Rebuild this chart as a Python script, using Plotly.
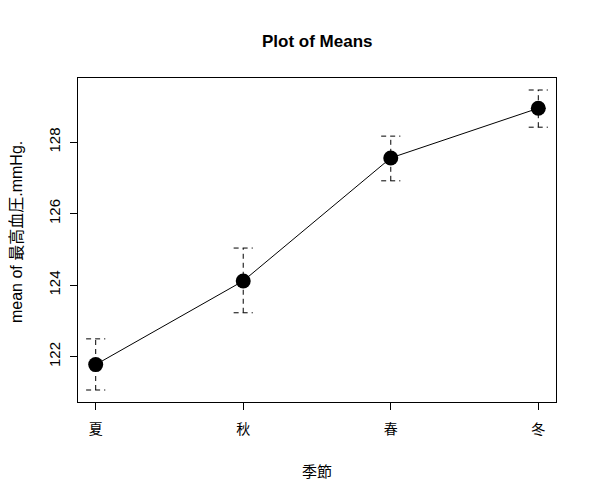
import plotly.graph_objects as go

categories = ["夏", "秋", "春", "冬"]
means = [121.78, 124.12, 127.56, 128.95]
upper = [122.50, 125.04, 128.17, 129.46]
lower = [121.07, 123.23, 126.92, 128.42]
y_ticks = [122, 124, 126, 128]

xpos = [i + 1 for i in range(len(categories))]
cap = 0.065

fig = go.Figure()

# error bars (dashed) with caps
ex, ey = [], []
for x, lo, hi in zip(xpos, lower, upper):
    ex += [x, x, None, x - cap, x + cap, None, x - cap, x + cap, None]
    ey += [lo, hi, None, hi, hi, None, lo, lo, None]
fig.add_trace(go.Scatter(x=ex, y=ey, mode="lines",
                         line=dict(color="black", width=1, dash="5px,4px"),
                         hoverinfo="skip", showlegend=False))

fig.add_trace(go.Scatter(x=xpos, y=means, mode="lines+markers",
                         line=dict(color="black", width=1),
                         marker=dict(color="black", size=15),
                         showlegend=False))

span = max(upper) - min(lower)
yr = [min(lower) - 0.04 * span, max(upper) + 0.04 * span]
xr = [1 - 0.04 * 3, 4 + 0.04 * 3]

fig.update_layout(
    width=597, height=500,
    margin=dict(l=70, r=49, t=70, b=106),
    paper_bgcolor="white", plot_bgcolor="white",
    font=dict(family="Liberation Sans, Arial", color="black", size=13),
    xaxis=dict(range=xr, tickvals=xpos, ticktext=categories,
               showgrid=False, zeroline=False,
               showline=True, linecolor="black", linewidth=1, mirror=True,
               ticks="outside", ticklen=7, tickcolor="black", tickwidth=1,
               tickfont=dict(family="Noto Sans CJK JP", size=14),
               ticklabelstandoff=7),
    yaxis=dict(range=yr, tickvals=y_ticks, ticktext=[str(v) for v in y_ticks],
               showgrid=False, zeroline=False,
               showline=True, linecolor="black", linewidth=1, mirror=True,
               ticks="outside", ticklen=7, tickcolor="black", tickwidth=1,
               tickangle=-90, tickfont=dict(size=15),
               ticklabelstandoff=4),
    annotations=[
        dict(text="<b>Plot of Means</b>", xref="paper", yref="paper",
             x=0.5, y=1, yshift=37, showarrow=False,
             font=dict(size=17, family="Liberation Sans, Arial"),
             xanchor="center", yanchor="middle"),
        dict(text="季節", xref="paper", yref="paper",
             x=0.5, y=0, yshift=-68, showarrow=False,
             font=dict(size=15, family="Noto Sans CJK JP"),
             xanchor="center", yanchor="middle"),
        dict(text="mean of 最高血圧.mmHg.", xref="paper", yref="paper",
             x=0, y=0.5, xshift=-62, yshift=8, showarrow=False, textangle=-90,
             font=dict(size=16, family="Liberation Sans, Noto Sans CJK JP"),
             xanchor="center", yanchor="middle"),
    ],
)

fig.write_html("out.html")
